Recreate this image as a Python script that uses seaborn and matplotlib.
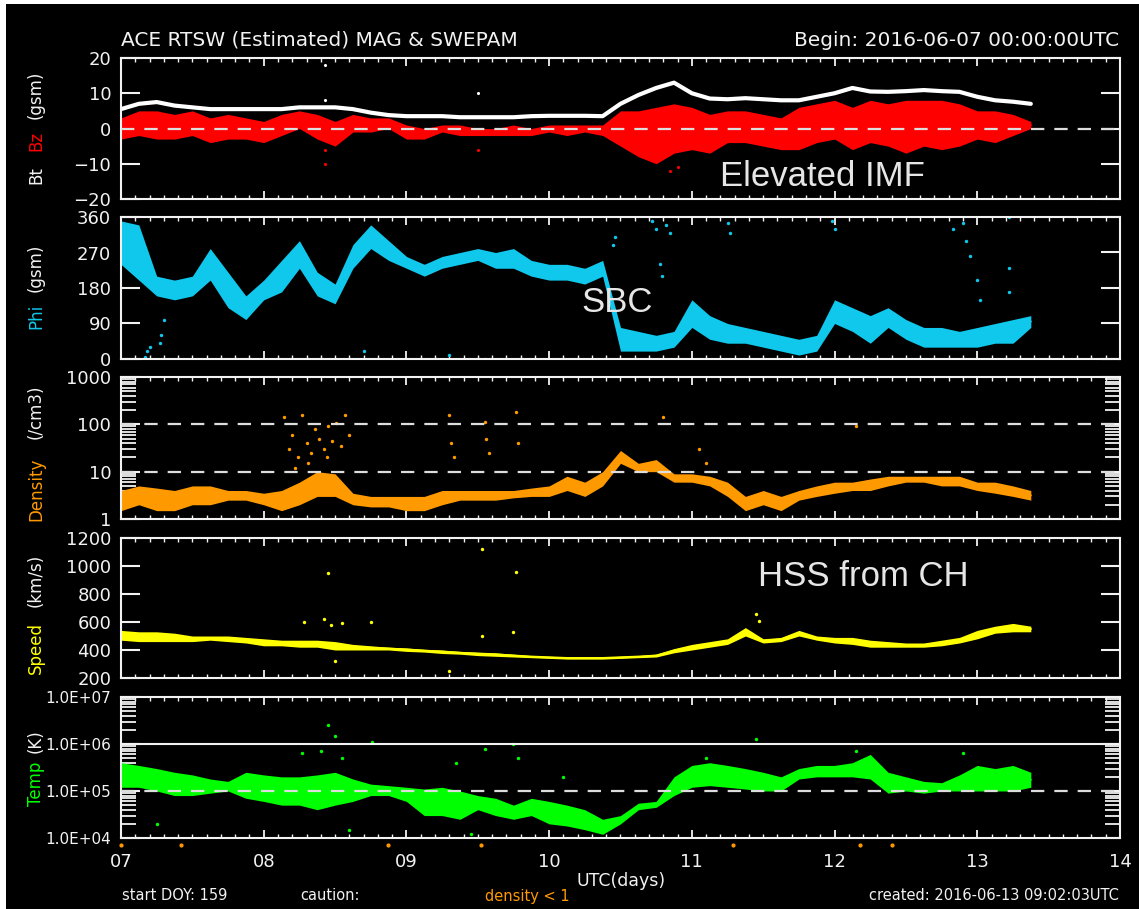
import numpy as np
import pandas as pd
import seaborn as sns
import matplotlib.pyplot as plt
from matplotlib.ticker import MultipleLocator, FixedLocator, LogLocator, FuncFormatter, NullFormatter
from matplotlib.patches import Rectangle

# time grid: every 3 hours from 2016-06-07 00:00 UTC
hours = list(range(0, 154, 3))
days = [7 + h / 24 for h in hours]

# Bt (nT), white trace
bt = [5.5, 7, 7.5, 6.5, 6, 5.5, 5.5, 5.5, 5.5, 5.5, 6, 6, 6, 5.5, 4.5, 3.8,
      3.5, 3.5, 3.5, 3.2, 3.2, 3.2, 3.2, 3.5, 3.6, 3.6, 3.6, 3.5, 7, 9.5, 11.5, 13,
      10, 8.5, 8.3, 8.6, 8.3, 8, 8, 9, 10, 11.5, 10.5, 10.4, 10.6, 10.9, 10.6, 10.4,
      9, 8, 7.6, 7]
# Bz (nT) envelope, red
bz_lo = [-3, -2, -3, -3, -2, -4, -3, -3, -4, -2, 0, -3, -5, -1, -1, 0,
         -3, -3, -1, -2, -2, -2, -2, -2, -1, -2, -1, -2, -5, -8, -10, -7,
         -6, -7, -4, -4, -5, -6, -6, -4, -3, -6, -4, -5, -7, -5, -6, -5,
         -3, -4, -2, 0]
bz_hi = [3, 5, 5, 4, 5, 3, 4, 3, 2, 4, 5, 4, 2, 4, 3, 3,
         1, 0, 1, 1, 0, 0, 1, 0, 1, 1, 1, 1, 5, 5, 6, 7,
         6, 4, 5, 5, 4, 3, 6, 7, 8, 6, 8, 7, 8, 8, 8, 7,
         5, 5, 4, 2]
bz_out_day = [8.43, 8.43, 9.5, 10.85, 10.9]
bz_out_val = [-6, -10, -6, -12, -11]
bt_out_day = [8.43, 8.43, 9.5]
bt_out_val = [18, 8, 10]

# Phi (deg) envelope, cyan
phi_lo = [240, 200, 160, 150, 160, 200, 130, 100, 150, 170, 230, 160, 140, 230, 280, 250,
          230, 210, 230, 240, 250, 230, 230, 210, 200, 200, 190, 210, 20, 20, 20, 30,
          80, 50, 40, 40, 30, 20, 10, 20, 90, 70, 40, 80, 50, 30, 30, 30,
          30, 40, 40, 80]
phi_hi = [350, 340, 210, 200, 210, 280, 220, 160, 200, 250, 300, 220, 190, 290, 340, 300,
          260, 240, 260, 270, 280, 270, 280, 250, 240, 240, 230, 250, 80, 70, 60, 70,
          150, 110, 90, 80, 70, 60, 50, 60, 150, 130, 110, 130, 100, 80, 80, 70,
          80, 90, 100, 110]
phi_out_day = [7.17, 7.18, 7.2, 7.27, 7.28, 7.3, 8.7, 9.3, 9.55, 10.45, 10.46,
               10.72, 10.75, 10.82, 10.85, 11.25, 11.27, 11.98, 12.0, 12.83, 12.9,
               12.92, 12.95, 13.0, 13.02, 13.22, 13.22, 13.22, 10.78, 10.79]
phi_out_val = [5, 20, 30, 40, 60, 100, 20, 10, 0, 290, 310,
               350, 330, 340, 320, 345, 320, 350, 330, 330, 345,
               300, 260, 200, 150, 360, 230, 170, 240, 210]

# proton density (/cm3) envelope, orange
den_lo = [1.5, 2, 1.5, 1.5, 2, 2, 2.5, 2.5, 2, 1.5, 2, 3, 3, 2, 1.8, 1.8,
          1.5, 1.5, 2, 2.5, 2.5, 2.5, 2.8, 3, 3, 4, 3, 5, 15, 10, 10, 6,
          6, 5, 3, 1.5, 2, 1.5, 2.5, 3, 3.5, 4, 4, 5, 6, 6, 5, 5,
          4, 3.5, 3, 2.5]
den_hi = [4, 5, 4.5, 4, 5, 5, 4, 4, 3.5, 4, 6, 10, 9, 3.5, 3, 3,
          3, 3, 4, 4, 4, 4, 4, 4.5, 5, 8, 6, 10, 28, 15, 18, 9,
          9, 8, 6, 3, 4, 3, 4, 5, 6, 6, 7, 8, 8, 8, 8, 8,
          6, 6, 5, 4]
den_out_day = [8.14, 8.18, 8.2, 8.24, 8.27, 8.3, 8.33, 8.36, 8.39, 8.42, 8.45,
               8.48, 8.51, 8.54, 8.57, 8.6, 8.22, 8.31, 8.44, 9.3, 9.31, 9.33,
               9.55, 9.56, 9.58, 9.77, 9.78, 10.8, 11.05, 11.1, 12.15]
den_out_val = [144, 30, 60, 20, 160, 40, 25, 80, 50, 30, 90,
               45, 107, 35, 160, 60, 12, 15, 20, 160, 40, 20,
               112, 50, 25, 183, 40, 140, 30, 15, 90]

# bulk speed (km/s) envelope, yellow
spd_lo = [470, 460, 460, 460, 460, 470, 460, 450, 430, 430, 420, 420, 400, 400, 400, 400,
          390, 385, 375, 370, 360, 355, 350, 345, 340, 335, 335, 335, 340, 345, 350, 380,
          400, 420, 440, 500, 450, 460, 500, 470, 450, 440, 420, 420, 420, 420, 430, 450,
          480, 520, 530, 530]
spd_hi = [540, 530, 530, 520, 500, 500, 500, 490, 480, 470, 470, 470, 460, 440, 430, 420,
          415, 405, 400, 390, 385, 380, 370, 360, 355, 350, 350, 350, 355, 360, 370, 410,
          440, 460, 480, 560, 480, 490, 540, 500, 490, 490, 470, 460, 450, 450, 470, 490,
          540, 570, 590, 570]
spd_out_day = [8.45, 9.53, 9.77, 8.28, 8.42, 8.47, 8.55, 8.75, 9.53, 9.75, 11.45, 11.47, 9.3, 8.5]
spd_out_val = [950, 1120, 960, 600, 620, 580, 590, 600, 500, 530, 660, 610, 250, 320]

# proton temperature (K) envelope, green
tmp_lo = [1.2e5, 1.2e5, 1e5, 8e4, 8e4, 9e4, 1e5, 7e4, 6e4, 5e4, 5e4, 4e4, 5e4, 6e4, 8e4, 8e4,
          6e4, 3e4, 3e4, 2.5e4, 4e4, 3e4, 2.5e4, 3e4, 2e4, 1.8e4, 1.5e4, 1.2e4, 2e4, 4e4, 4.5e4, 8e4,
          1.2e5, 1.3e5, 1.2e5, 1.1e5, 1e5, 1e5, 1.8e5, 2e5, 2e5, 2e5, 1.8e5, 9e4, 1e5, 9e4, 1e5, 1e5,
          1e5, 1e5, 1e5, 1.2e5]
tmp_hi = [4e5, 3.5e5, 3e5, 2.5e5, 2.2e5, 1.8e5, 1.6e5, 2.5e5, 2.2e5, 2e5, 2e5, 2.2e5, 2.5e5, 1.8e5, 1.4e5, 1.3e5,
          1.2e5, 1.1e5, 1.2e5, 1e5, 8e4, 7e4, 5e4, 7e4, 6e4, 5e4, 4e4, 2.5e4, 3e4, 5.5e4, 6e4, 2e5,
          3.5e5, 4e5, 3.5e5, 3e5, 2.5e5, 2e5, 3e5, 3.5e5, 3.5e5, 4e5, 6e5, 2.5e5, 2e5, 1.6e5, 1.5e5, 2.2e5,
          3.5e5, 3e5, 3.5e5, 2.5e5]
tmp_out_day = [8.27, 8.4, 8.45, 8.5, 8.55, 8.76, 9.35, 9.75, 9.78, 9.55, 10.1, 11.45, 11.1,
               12.15, 12.9, 7.25, 8.6, 9.45]
tmp_out_val = [6.5e5, 7e5, 2.5e6, 1.5e6, 5e5, 1.1e6, 4e5, 1e6, 5e5, 8e5, 2e5, 1.3e6, 5e5,
               7e5, 6.5e5, 2e4, 1.5e4, 1.2e4]

# "density < 1" caution marks
caution_days = [7.0, 7.42, 8.87, 9.52, 11.29, 12.18, 12.4]

RED, CYAN, ORANGE, YELLOW, GREEN = "#ff0000", "#10c8ec", "#ff9900", "#ffff00", "#00ff00"
FG = "#f2f2f2"

sns.set_theme(style="dark", rc={
    "axes.facecolor": "black", "figure.facecolor": "white", "axes.edgecolor": FG,
    "axes.grid": False, "axes.linewidth": 1.5, "text.color": FG,
    "xtick.color": FG, "ytick.color": FG,
})
plt.rcParams["font.family"] = ["DejaVu Sans"]

W, H = 1139, 909
fig = plt.figure(figsize=(W / 100, H / 100), dpi=100)
fig.patches.append(Rectangle((6 / W, 0), 1, 1 - 4 / H, transform=fig.transFigure,
                             facecolor="black", edgecolor="none", zorder=-10))


def panel(top, bottom):
    ax = fig.add_axes([121 / W, 1 - bottom / H, 999 / W, (bottom - top) / H])
    return ax


def band(lo, hi):
    return pd.DataFrame({"day": days + days, "val": lo + hi})


def style(ax, last=False):
    ax.set_xlim(7, 14)
    ax.xaxis.set_major_locator(MultipleLocator(1))
    ax.xaxis.set_minor_locator(MultipleLocator(0.1))
    ax.tick_params(which="both", direction="in", top=True, right=True, left=True,
                   bottom=True, colors=FG, labelsize=13, pad=7)
    ax.tick_params(axis="x", which="major", length=6, width=1.3, pad=11)
    ax.tick_params(axis="x", which="minor", length=3, width=1.0)
    ax.tick_params(axis="y", which="major", length=14, width=1.5)
    ax.tick_params(axis="y", which="minor", length=11, width=1.3)
    ax.set_xlabel("")
    ax.set_ylabel("")
    if last:
        ax.set_xticks(range(7, 15), ["07", "08", "09", "10", "11", "12", "13", "14"])
    else:
        ax.tick_params(axis="x", labelbottom=False)
    for s in ax.spines.values():
        s.set_color(FG)
        s.set_linewidth(1.5)


dash = dict(color="#dddddd", lw=1.6, ls=(0, (6, 4.5)), zorder=5)

# --- Bt / Bz
ax1 = panel(58, 199)
sns.lineplot(data=band(bz_lo, bz_hi), x="day", y="val", errorbar=("pi", 100), color=RED,
             lw=1.5, err_kws={"alpha": 1, "lw": 0}, ax=ax1)
sns.scatterplot(x=bz_out_day, y=bz_out_val, color=RED, s=5, linewidth=0, ax=ax1)
sns.lineplot(x=days, y=bt, color="white", lw=3, ax=ax1)
sns.scatterplot(x=bt_out_day, y=bt_out_val, color="white", s=5, linewidth=0, ax=ax1)
ax1.axhline(0, **dash)
ax1.set_ylim(-20, 20)
ax1.set_yticks([-20, -10, 0, 10, 20])
style(ax1)

# --- Phi
ax2 = panel(217, 359)
sns.lineplot(data=band(phi_lo, phi_hi), x="day", y="val", errorbar=("pi", 100), color=CYAN,
             lw=1.5, err_kws={"alpha": 1, "lw": 0}, ax=ax2)
sns.scatterplot(x=phi_out_day, y=phi_out_val, color=CYAN, s=6, linewidth=0, ax=ax2)
ax2.set_ylim(0, 360)
ax2.set_yticks([0, 90, 180, 270, 360])
style(ax2)

# --- Density
ax3 = panel(377, 519)
ax3.set_yscale("log")
sns.lineplot(data=band(den_lo, den_hi), x="day", y="val", errorbar=("pi", 100), color=ORANGE,
             lw=1.5, err_kws={"alpha": 1, "lw": 0}, ax=ax3)
sns.scatterplot(x=den_out_day, y=den_out_val, color=ORANGE, s=6, linewidth=0, ax=ax3)
ax3.axhline(10, **dash)
ax3.axhline(100, **dash)
ax3.set_ylim(1, 1000)
ax3.yaxis.set_major_locator(FixedLocator([1, 10, 100, 1000]))
ax3.yaxis.set_major_formatter(FuncFormatter(lambda v, p: f"{v:g}"))
ax3.yaxis.set_minor_locator(LogLocator(subs=range(2, 10)))
ax3.yaxis.set_minor_formatter(NullFormatter())
style(ax3)

# --- Speed
ax4 = panel(538, 678)
sns.lineplot(data=band(spd_lo, spd_hi), x="day", y="val", errorbar=("pi", 100), color=YELLOW,
             lw=1.5, err_kws={"alpha": 1, "lw": 0}, ax=ax4)
sns.scatterplot(x=spd_out_day, y=spd_out_val, color=YELLOW, s=6, linewidth=0, ax=ax4)
ax4.set_ylim(200, 1200)
ax4.set_yticks([200, 400, 600, 800, 1000, 1200])
style(ax4)

# --- Temperature
ax5 = panel(697, 838)
ax5.set_yscale("log")
sns.lineplot(data=band(tmp_lo, tmp_hi), x="day", y="val", errorbar=("pi", 100), color=GREEN,
             lw=1.5, err_kws={"alpha": 1, "lw": 0}, ax=ax5)
sns.scatterplot(x=tmp_out_day, y=tmp_out_val, color=GREEN, s=6, linewidth=0, ax=ax5)
ax5.axhline(1e5, **dash)
ax5.axhline(1e6, color=FG, lw=1.5, zorder=5)
ax5.set_ylim(1e4, 1e7)
ax5.yaxis.set_major_locator(FixedLocator([1e4, 1e5, 1e6, 1e7]))
ax5.yaxis.set_major_formatter(FuncFormatter(lambda v, p: f"{v:.1E}"))
ax5.yaxis.set_minor_locator(LogLocator(subs=range(2, 10)))
ax5.yaxis.set_minor_formatter(NullFormatter())
style(ax5, last=True)
ax5.tick_params(axis="y", labelsize=11)
ax5.plot(caution_days, [-0.05] * len(caution_days), "o", ms=2, color=ORANGE,
         transform=ax5.get_xaxis_transform(), clip_on=False)


def ftext(x, y, s, **kw):
    fig.text(x / W, 1 - y / H, s, **kw)


# y axis labels, multi-coloured
ylab = dict(rotation=90, ha="center", va="center", fontsize=12)
ftext(36, 175, "Bt", color=FG, **ylab)
ftext(36, 141, "Bz", color=RED, **ylab)
ftext(36, 95, "(gsm)", color=FG, **ylab)
ftext(36, 316, "Phi", color=CYAN, **ylab)
ftext(36, 268, "(gsm)", color=FG, **ylab)
ftext(36, 489, "Density", color=ORANGE, **ylab)
ftext(36, 412, "(/cm3)", color=FG, **ylab)
ftext(36, 648, "Speed", color=YELLOW, **ylab)
ftext(36, 580, "(km/s)", color=FG, **ylab)
ftext(36, 784, "Temp", color=GREEN, **ylab)
ftext(36, 741, "(K)", color=FG, **ylab)

# header / footer
ftext(121, 40, "ACE RTSW (Estimated) MAG & SWEPAM", color=FG, fontsize=14.5, va="center")
ftext(1119, 40, "Begin: 2016-06-07 00:00:00UTC", color=FG, fontsize=14.5, va="center", ha="right")
ftext(621, 881, "UTC(days)", color=FG, fontsize=12.5, va="center", ha="center")
ftext(122, 896, "start DOY: 159", color=FG, fontsize=10.5, va="center")
ftext(300, 896, "caution:", color=FG, fontsize=10.5, va="center")
ftext(485, 896, "density < 1", color=ORANGE, fontsize=10.5, va="center")
ftext(1119, 896, "created: 2016-06-13 09:02:03UTC", color=FG, fontsize=10.5, va="center", ha="right")

# event annotations
note = dict(color="#e6e6e6", fontsize=25, ha="center", va="center", family="Liberation Sans")
ftext(822, 177, "Elevated IMF", **note)
ftext(617, 302, "SBC", **note)
ftext(863, 577, "HSS from CH", **note)

fig.savefig("out.png", dpi=100, facecolor=fig.get_facecolor())
